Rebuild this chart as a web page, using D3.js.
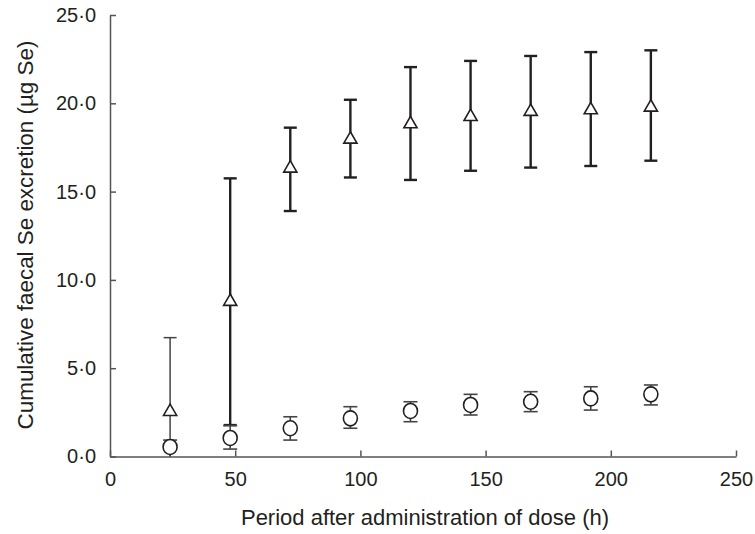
<!DOCTYPE html>
<html><head><meta charset="utf-8">
<script src="https://cdn.jsdelivr.net/npm/d3@7"></script>
<style>body{margin:0;background:#fff}svg{display:block}text{font-family:"Liberation Sans",Arial,sans-serif;fill:#231f20}</style>
</head><body><svg id="c" width="755" height="534"></svg>
<script>
const hours = [24, 48, 72, 96, 120, 144, 168, 192, 216];
const triMean = [2.54, 8.77, 16.32, 17.96, 18.83, 19.24, 19.53, 19.62, 19.77];
const triLow  = [0.0, 1.78, 13.9, 15.8, 15.66, 16.18, 16.36, 16.45, 16.75];
const triHigh = [6.73, 15.75, 18.62, 20.2, 22.05, 22.4, 22.68, 22.9, 23.0];
const cirMean = [0.54, 1.05, 1.60, 2.16, 2.58, 2.92, 3.10, 3.29, 3.52];
const cirLow  = [0.0, 0.42, 0.93, 1.60, 1.97, 2.35, 2.54, 2.63, 2.92];
const cirHigh = [0.93, 1.75, 2.25, 2.82, 3.10, 3.52, 3.67, 3.95, 4.05];
const xTicks = [0, 50, 100, 150, 200, 250];
const yTicks = [0, 5, 10, 15, 20, 25];

const svg = d3.select('#c');
const x = d3.scaleLinear().domain([0, 250]).range([110, 736]);
const y = d3.scaleLinear().domain([0, 25]).range([456.5, 15]);
const ink = '#231f20';
const FS = 20;

const fmt = v => d3.format('.1f')(v).replace('.', '\u00b7');

const gx = svg.append('g').attr('transform', `translate(0,${y(0)})`)
  .call(d3.axisBottom(x).tickValues(xTicks).tickSizeInner(-6).tickSizeOuter(0).tickPadding(15.5).tickFormat(d3.format('d')));
const gy = svg.append('g').attr('transform', `translate(${x(0)},0)`)
  .call(d3.axisLeft(y).tickValues(yTicks).tickSizeInner(-6).tickSizeOuter(0).tickPadding(14).tickFormat(fmt));
[gx, gy].forEach(g => {
  g.attr('font-size', null).attr('font-family', null);
  g.select('.domain').attr('stroke', '#555').attr('stroke-width', 1.5);
  g.selectAll('.tick line').attr('stroke', '#555').attr('stroke-width', 1.5);
  g.selectAll('.tick text').style('font-size', FS + 'px').attr('fill', ink)
    .style('font-family', '"Liberation Sans", Arial, sans-serif');
});

svg.append('text').attr('x', 425).attr('y', 525)
  .attr('text-anchor', 'middle').style('font-size', '22px').text('Period after administration of dose (h)');
svg.append('text').attr('transform', `translate(33,235) rotate(-90)`)
  .attr('text-anchor', 'middle').style('font-size', '22.4px').text('Cumulative faecal Se excretion (\u00b5g Se)');

function errorBars(mean, low, high, capW, widthFn) {
  const g = svg.append('g');
  hours.forEach((h, i) => {
    const sw = widthFn(i);
    const col = sw < 2 ? '#444' : ink;
    g.append('line').attr('x1', x(h)).attr('x2', x(h)).attr('y1', y(low[i])).attr('y2', y(high[i]))
      .attr('stroke', col).attr('stroke-width', sw);
    [low[i], high[i]].forEach(v => {
      if (v <= 0) return;
      g.append('line').attr('x1', x(h) - capW / 2).attr('x2', x(h) + capW / 2)
        .attr('y1', y(v)).attr('y2', y(v)).attr('stroke', col).attr('stroke-width', sw);
    });
  });
}

errorBars(triMean, triLow, triHigh, 13, i => i === 0 ? 1.5 : 2.4);
errorBars(cirMean, cirLow, cirHigh, 14, i => 1.6);

// circles
svg.append('g').selectAll('ellipse').data(hours).join('ellipse')
  .attr('cx', d => x(d)).attr('cy', (d, i) => y(cirMean[i]))
  .attr('rx', 7).attr('ry', 7.5).attr('fill', '#fff').attr('stroke', ink).attr('stroke-width', 1.6);

// triangles
const tri = d3.symbol().type(d3.symbolTriangle).size(75);
svg.append('g').selectAll('path').data(hours).join('path')
  .attr('d', tri).attr('transform', (d, i) => `translate(${x(d)},${y(triMean[i])})`)
  .attr('fill', '#fff').attr('stroke', ink).attr('stroke-width', 1.6);
</script></body></html>
